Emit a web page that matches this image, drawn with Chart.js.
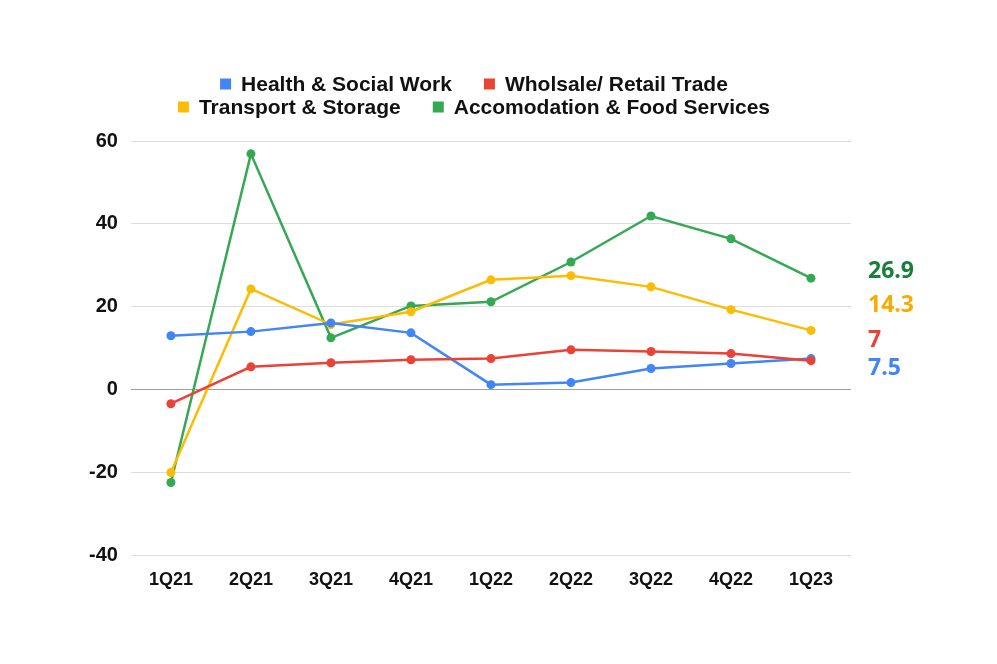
<!DOCTYPE html>
<html>
<head>
<meta charset="utf-8">
<script src="https://cdn.jsdelivr.net/npm/chart.js@4"></script>
<style>
  html, body { margin: 0; padding: 0; background: #fff; }
  #wrap { width: 997px; height: 664px; }
</style>
</head>
<body>
<div id="wrap"><canvas id="chart"></canvas></div>
<script>
const quarters = ['1Q21', '2Q21', '3Q21', '4Q21', '1Q22', '2Q22', '3Q22', '4Q22', '1Q23'];
const health = [13.0, 14.0, 16.1, 13.7, 1.2, 1.7, 5.1, 6.3, 7.5];
const wholesale = [-3.4, 5.5, 6.5, 7.2, 7.5, 9.6, 9.2, 8.7, 7];
const transport = [-20.0, 24.3, 15.7, 18.8, 26.5, 27.5, 24.8, 19.3, 14.3];
const accomodation = [-22.4, 56.9, 12.5, 20.2, 21.2, 30.8, 41.9, 36.4, 26.9];
const yTicks = [-40, -20, 0, 20, 40, 60];

const seriesNames = ['Health & Social Work', 'Wholsale/ Retail Trade', 'Transport & Storage', 'Accomodation & Food Services'];
const lineColors = ['#4285F4', '#EA4335', '#FBBC04', '#34A853'];
const endLabelColors = ['#4285F4', '#EA4335', '#F9AB00', '#188038'];
// small vertical nudges so the end labels don't overlap
const endLabelNudge = [10, -20, -25, -7];

const allSeries = [health, wholesale, transport, accomodation];

const datasets = allSeries.map((values, i) => ({
  label: seriesNames[i],
  data: values,
  borderColor: lineColors[i],
  backgroundColor: lineColors[i],
  borderWidth: 2.5,
  pointRadius: 4.5,
  pointHoverRadius: 4.5,
  pointBorderWidth: 0,
  tension: 0,
  order: [1, 0, 2, 3][i],
}));

const twoRowLegend = {
  id: 'twoRowLegend',
  afterDraw(chart) {
    const ctx = chart.ctx;
    const rows = [[0, 1], [2, 3]];
    const rowY = [84, 107];
    const box = 11, gapText = 10, gapItem = 32;
    ctx.save();
    ctx.font = 'bold 21px "Liberation Sans", Arial, sans-serif';
    ctx.textBaseline = 'middle';
    const cx = (chart.chartArea.left + chart.chartArea.right) / 2 - 17;
    rows.forEach((row, r) => {
      const widths = row.map((i) => box + gapText + ctx.measureText(seriesNames[i]).width);
      const total = widths.reduce((a, b) => a + b, 0) + gapItem * (row.length - 1);
      let x = cx - total / 2;
      row.forEach((i, k) => {
        ctx.fillStyle = lineColors[i];
        ctx.fillRect(x, rowY[r] - box / 2, box, box);
        ctx.fillStyle = '#111';
        ctx.textAlign = 'left';
        ctx.fillText(seriesNames[i], x + box + gapText, rowY[r] + 1);
        x += widths[k] + gapItem;
      });
    });
    ctx.restore();
  }
};

const endLabels = {
  id: 'endLabels',
  afterDatasetsDraw(chart) {
    const ctx = chart.ctx;
    const yScale = chart.scales.y;
    ctx.save();
    ctx.font = 'bold 23px "Open Sans", sans-serif';
    ctx.textAlign = 'left';
    ctx.textBaseline = 'middle';
    allSeries.forEach((values, i) => {
      const last = values[values.length - 1];
      const y = yScale.getPixelForValue(last) + endLabelNudge[i];
      ctx.fillStyle = endLabelColors[i];
      ctx.fillText(String(last), chart.chartArea.right + 17, y);
    });
    ctx.restore();
  }
};

new Chart(document.getElementById('chart'), {
  type: 'line',
  data: { labels: quarters, datasets },
  options: {
    responsive: true,
    maintainAspectRatio: false,
    animation: false,
    layout: { padding: { top: 141, left: 76, right: 146, bottom: 59 } },
    plugins: {
      legend: { display: false },
      tooltip: { enabled: false },
    },
    scales: {
      x: {
        offset: true,
        grid: { display: false, drawTicks: false },
        border: { display: false },
        ticks: {
          color: '#111',
          padding: 14,
          font: { family: '"Liberation Sans", Arial, sans-serif', size: 18, weight: 'bold' },
        },
      },
      y: {
        min: -40,
        max: 60,
        afterBuildTicks(axis) { axis.ticks = yTicks.map((v) => ({ value: v })); },
        grid: {
          drawTicks: false,
          color: (c) => (c.tick && c.tick.value === 0 ? '#9e9e9e' : '#dddddd'),
          lineWidth: 1,
        },
        border: { display: false },
        ticks: {
          color: '#111',
          padding: 13,
          font: { family: '"Liberation Sans", Arial, sans-serif', size: 20, weight: 'bold' },
        },
      },
    },
  },
  plugins: [twoRowLegend, endLabels],
});
</script>
</body>
</html>
